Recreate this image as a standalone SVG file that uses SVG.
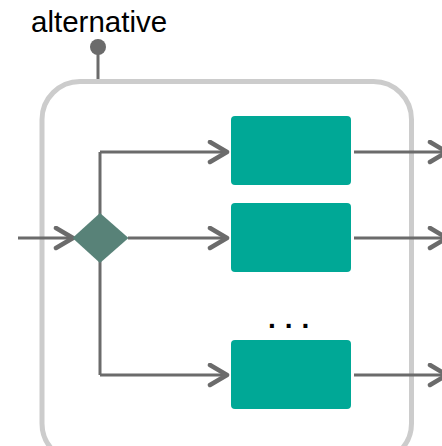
<svg xmlns="http://www.w3.org/2000/svg" width="442" height="446" viewBox="0 0 442 446">
  <style>
    .frame { fill: none; stroke: #cccccc; stroke-width: 5; }
    .flow { fill: none; stroke: #6b6b6b; stroke-width: 3; }
    .task { fill: #00a896; }
    .gate { fill: #588278; }
    .label { font-family: "Liberation Sans", Arial, sans-serif; font-size: 29.5px; fill: #000000; }
    .more { font-family: "Liberation Sans", Arial, sans-serif; font-size: 28px; font-weight: bold; fill: #000000; letter-spacing: 9px; }
  </style>
  <defs>
    <marker id="chevron" markerUnits="userSpaceOnUse" markerWidth="24" markerHeight="26" refX="20" refY="12" orient="auto" viewBox="0 0 24 26">
      <path d="M3 2 L20 12 L3 22" fill="none" stroke="#6b6b6b" stroke-width="4.5" stroke-linecap="round" stroke-linejoin="round"/>
    </marker>
  </defs>

  <!-- sub-process container with its label pin -->
  <g id="alternative">
    <text class="label" x="31" y="32">alternative</text>
    <line x1="98" y1="48" x2="98" y2="80" stroke="#6b6b6b" stroke-width="3"/>
    <circle cx="98" cy="47" r="8" fill="#6b6b6b"/>
    <rect class="frame" x="42" y="81.5" width="369.5" height="380" rx="38" ry="38"/>
  </g>

  <!-- connectors -->
  <g id="connectors">
    <line class="flow" x1="18" y1="238" x2="73" y2="238" marker-end="url(#chevron)"/>
    <line class="flow" x1="100" y1="152" x2="100" y2="375"/>
    <polyline class="flow" points="100,152 227,152" marker-end="url(#chevron)"/>
    <line class="flow" x1="128" y1="238" x2="227" y2="238" marker-end="url(#chevron)"/>
    <polyline class="flow" points="100,375 227,375" marker-end="url(#chevron)"/>
    <line class="flow" x1="354" y1="152" x2="447" y2="152" marker-end="url(#chevron)"/>
    <line class="flow" x1="354" y1="238" x2="447" y2="238" marker-end="url(#chevron)"/>
    <line class="flow" x1="354" y1="375" x2="447" y2="375" marker-end="url(#chevron)"/>
  </g>

  <!-- exclusive gateway -->
  <g id="gateway">
    <polygon class="gate" points="100,213 128.5,238 100,263 72.5,238"/>
  </g>

  <!-- branch tasks -->
  <g id="task1">
    <rect class="task" x="231" y="116" width="120" height="69" rx="4"/>
  </g>
  <g id="task2">
    <rect class="task" x="231" y="203" width="120" height="69" rx="4"/>
  </g>
  <g id="ellipsis">
    <text class="more" x="268" y="328">...</text>
  </g>
  <g id="task3">
    <rect class="task" x="231" y="340" width="120" height="69" rx="4"/>
  </g>
</svg>
